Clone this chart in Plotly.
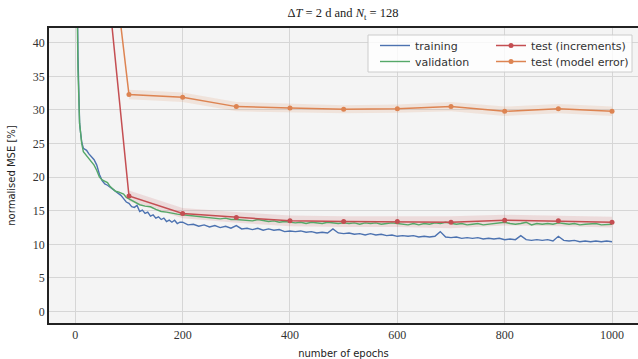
import plotly.graph_objects as go

# ---------------- data ----------------
train_epochs = [1, 2, 3, 4, 5, 6, 8, 10, 12, 15, 18, 21, 25, 30, 35, 40, 45, 50, 55, 60,
                65, 70, 75, 80, 85, 90, 95, 100] + list(range(105, 200, 5)) + list(range(200, 1001, 10))
train_mse = [100, 75, 55, 45, 38, 33, 28, 26.5, 25.2, 24.3, 24.2, 24.0, 23.5, 23.0, 22.6, 21.8, 20.4, 19.5, 19.0, 18.8,
             18.5, 18.1, 17.8, 17.6, 17.3, 16.8, 16.3, 16.1,
             15.6, 15.5, 15.8, 14.9, 15.1, 14.6, 14.8, 14.2, 14.4, 13.9, 14.1, 13.7, 13.9, 13.4, 13.6, 13.3, 13.6, 13.1, 13.3,
             13.3, 12.9, 13.0, 12.7, 12.9, 12.6, 12.8, 12.5, 12.7, 12.4, 12.8, 12.3, 12.4, 12.2, 12.4, 12.1, 12.3, 12.1, 12.2, 11.9,
             12.0, 11.9, 12.0, 11.8, 11.9, 11.7, 11.8, 11.7, 12.3, 11.7, 11.6, 11.7, 11.5, 11.6, 11.4, 11.6, 11.4, 11.5, 11.3, 11.4,
             11.2, 11.3, 11.2, 11.3, 11.1, 11.2, 11.1, 11.2, 11.9, 11.1, 11.0, 11.1, 10.9, 11.0, 10.9, 11.0, 10.8, 10.9, 10.8, 10.9,
             10.7, 10.8, 10.7, 11.3, 10.7, 10.6, 10.7, 10.6, 10.7, 10.5, 11.2, 10.6, 10.5, 10.6, 10.4, 10.5, 10.4, 10.5, 10.4, 10.5,
             10.4]

val_epochs = [1, 2, 3, 4, 5, 6, 8, 10, 12, 15, 18, 21, 25, 30, 35, 40, 45, 50, 55, 60,
              65, 70, 75, 80, 85, 90, 95, 100] + list(range(110, 1001, 10))
val_mse = [100, 72, 52, 42, 36, 32, 28, 26.5, 25.0, 23.8, 23.5, 23.3, 22.8, 22.3, 21.8, 21.0, 20.0, 19.6, 19.4, 19.2,
           18.6, 18.3, 17.9, 17.8, 17.6, 17.5, 17.0, 16.8,
           16.3, 15.9, 15.7, 15.6, 15.2, 14.9, 14.8, 14.6, 14.5, 14.4,
           14.3, 14.2, 14.1, 14.0, 14.0, 13.9, 13.8, 13.9, 13.7, 13.7, 13.6, 13.6, 13.5, 13.7, 13.5, 13.4, 13.5, 13.3, 13.4, 13.3,
           13.2, 13.3, 13.1, 13.3, 13.2, 13.1, 13.3, 13.2, 13.1, 13.2, 13.1, 13.2, 13.0, 13.2, 13.1, 13.2, 13.0, 13.1, 13.2, 13.1,
           13.0, 12.9, 13.1, 12.9, 13.1, 13.0, 13.2, 13.1, 13.3, 13.2, 13.0, 13.1, 12.9, 13.0, 13.1, 12.9, 13.0, 13.1, 13.2, 13.3,
           13.1, 13.0, 13.1, 13.3, 12.9, 13.1, 13.0, 13.1, 13.0, 13.2, 13.1, 13.0, 13.1, 12.9, 13.0, 13.0, 13.1, 12.9, 13.0, 13.0]

test_epochs = [0, 100, 200, 300, 400, 500, 600, 700, 800, 900, 1000]
test_incr = [97, 17.2, 14.6, 14.0, 13.5, 13.4, 13.4, 13.3, 13.6, 13.5, 13.3]
test_model = [100, 32.3, 31.9, 30.5, 30.3, 30.1, 30.2, 30.5, 29.8, 30.2, 29.8]

band_epochs = [100, 200, 300, 400, 500, 600, 700, 800, 900, 1000]
incr_upper = [18.0, 15.4, 14.8, 14.3, 14.2, 14.2, 14.2, 14.4, 14.3, 14.1]
incr_lower = [16.4, 13.9, 13.2, 12.7, 12.6, 12.6, 12.4, 12.8, 12.7, 12.5]
model_upper = [33.0, 32.6, 31.2, 30.9, 30.7, 30.8, 31.2, 30.5, 30.9, 30.5]
model_lower = [31.6, 31.2, 29.8, 29.7, 29.5, 29.6, 29.8, 29.1, 29.5, 29.1]

x_ticks = [0, 200, 400, 600, 800, 1000]
y_ticks = [0, 5, 10, 15, 20, 25, 30, 35, 40]

# ---------------- style ----------------
BLUE = "#4c72b0"
GREEN = "#55a868"
RED = "#c44e52"
ORANGE = "#dd8452"
SERIF = "Liberation Serif, DejaVu Serif, serif"
SANS = "DejaVu Sans, sans-serif"

W, H = 638, 359
ML, MR, MT, MB = 49, 0, 28, 36
PW, PH = W - ML - MR, H - MT - MB


def px_x(px):
    return (px - ML) / PW


def px_y(py):
    return (H - MB - py) / PH


fig = go.Figure()

# bands
fig.add_trace(go.Scatter(x=band_epochs, y=incr_upper, mode="lines", line=dict(width=0),
                         showlegend=False, hoverinfo="skip"))
fig.add_trace(go.Scatter(x=band_epochs, y=incr_lower, mode="lines", line=dict(width=0),
                         fill="tonexty", fillcolor="rgba(196,78,82,0.15)", showlegend=False, hoverinfo="skip"))
fig.add_trace(go.Scatter(x=band_epochs, y=model_upper, mode="lines", line=dict(width=0),
                         showlegend=False, hoverinfo="skip"))
fig.add_trace(go.Scatter(x=band_epochs, y=model_lower, mode="lines", line=dict(width=0),
                         fill="tonexty", fillcolor="rgba(221,132,82,0.15)", showlegend=False, hoverinfo="skip"))

fig.add_trace(go.Scatter(x=train_epochs, y=train_mse, mode="lines", name="training",
                         line=dict(color=BLUE, width=1.4), legend="legend"))
fig.add_trace(go.Scatter(x=val_epochs, y=val_mse, mode="lines", name="validation",
                         line=dict(color=GREEN, width=1.4), legend="legend2"))
fig.add_trace(go.Scatter(x=test_epochs, y=test_incr, mode="lines+markers", name="test (increments)",
                         line=dict(color=RED, width=1.5), marker=dict(size=5, color=RED), legend="legend3"))
fig.add_trace(go.Scatter(x=test_epochs, y=test_model, mode="lines+markers", name="test (model error)",
                         line=dict(color=ORANGE, width=1.5), marker=dict(size=5, color=ORANGE), legend="legend4"))

# legend frame
fig.add_shape(type="rect", xref="paper", yref="paper",
              x0=px_x(368), x1=px_x(632), y0=px_y(72), y1=px_y(35),
              line=dict(color="#cccccc", width=1), fillcolor="rgba(255,255,255,0.8)", layer="above")

legend_common = dict(bgcolor="rgba(0,0,0,0)", borderwidth=0, font=dict(family=SANS, size=11, color="#333"),
                     orientation="v", xanchor="left", yanchor="top", tracegroupgap=0, itemwidth=30,
                     traceorder="normal")

fig.update_layout(
    width=W, height=H,
    margin=dict(l=ML, r=MR, t=MT, b=MB),
    paper_bgcolor="white",
    plot_bgcolor="#f4f4f4",
    title=dict(text="Δ<i>T</i> = 2 d and <i>N</i><sub>t</sub> = 128", x=343 / W, xanchor="center",
               y=1 - 13 / H, yanchor="middle", font=dict(family=SERIF, size=12.5, color="#222")),
    xaxis=dict(range=[-49, 1048.4], tickvals=x_ticks, ticks="", showgrid=True, gridcolor="#d6d6d6", gridwidth=1,
               zeroline=False, showline=True, linecolor="#222", linewidth=1.5, mirror=True,
               tickfont=dict(family=SERIF, size=12, color="#333"),
               title=dict(text="number of epochs", font=dict(family=SANS, size=10, color="#222"), standoff=9)),
    yaxis=dict(range=[-1.7, 42.2], tickvals=y_ticks, ticks="", showgrid=True, gridcolor="#d6d6d6", gridwidth=1,
               zeroline=False, showline=True, linecolor="#222", linewidth=1.5,
               tickfont=dict(family=SERIF, size=12, color="#333"),
               title=dict(text="normalised MSE [%]", font=dict(family=SANS, size=10, color="#222"), standoff=15)),
    legend=dict(x=px_x(375), y=px_y(31), **legend_common),
    legend2=dict(x=px_x(375), y=px_y(47), **legend_common),
    legend3=dict(x=px_x(491), y=px_y(31), **legend_common),
    legend4=dict(x=px_x(491), y=px_y(47), **legend_common),
)

fig.write_html("out.html")
